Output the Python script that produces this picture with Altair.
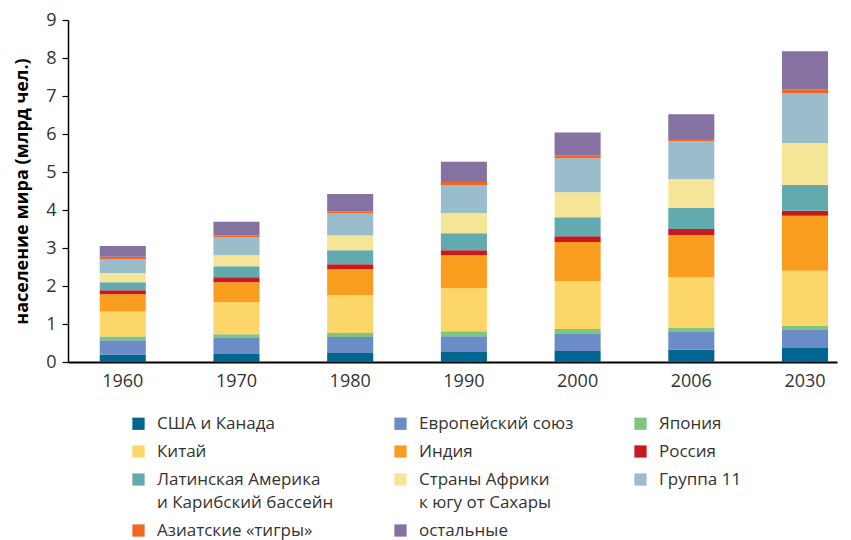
import altair as alt
import pandas as pd

years = ["1960", "1970", "1980", "1990", "2000", "2006", "2030"]

regions = [
    "США и Канада", "Европейский союз", "Япония",
    "Китай", "Индия", "Россия",
    "Латинская Америка\nи Карибский бассейн", "Страны Африки\nк югу от Сахары", "Группа 11",
    "Азиатские «тигры»", "остальные",
]
colors = [
    "#00658F", "#6C8CC7", "#7DC67F",
    "#FDD66A", "#F89D1E", "#C8191F",
    "#63AAAF", "#F5E596", "#9ABDCC",
    "#F26522", "#8572A0",
]

usa    = [0.20, 0.21, 0.24, 0.26, 0.29, 0.32, 0.37]
eu     = [0.37, 0.42, 0.42, 0.42, 0.45, 0.47, 0.47]
japan  = [0.10, 0.10, 0.10, 0.13, 0.13, 0.12, 0.11]
china  = [0.66, 0.84, 1.00, 1.13, 1.26, 1.32, 1.45]
india  = [0.45, 0.53, 0.68, 0.87, 1.03, 1.11, 1.45]
russia = [0.11, 0.13, 0.13, 0.13, 0.15, 0.16, 0.13]
latam  = [0.21, 0.29, 0.37, 0.45, 0.50, 0.55, 0.68]
africa = [0.24, 0.29, 0.39, 0.53, 0.66, 0.76, 1.10]
g11    = [0.37, 0.47, 0.58, 0.74, 0.89, 1.00, 1.32]
tigers = [0.06, 0.05, 0.06, 0.08, 0.08, 0.06, 0.10]
others = [0.28, 0.36, 0.45, 0.53, 0.60, 0.65, 1.00]

series = [usa, eu, japan, china, india, russia, latam, africa, g11, tigers, others]

rows = []
for i, (name, vals) in enumerate(zip(regions, series)):
    for y, v in zip(years, vals):
        rows.append({"year": y, "region": name, "value": v, "order": i})
df = pd.DataFrame(rows)

FONT = "Open Sans"
TXT = "#333333"

chart = alt.Chart(df).mark_bar().encode(
    x=alt.X("year:N", sort=years, title=None,
            scale=alt.Scale(paddingInner=0.595, paddingOuter=0.179, align=0.78),
            axis=alt.Axis(labelAngle=0, ticks=False, labelFontSize=18, labelFont=FONT,
                          labelColor=TXT, labelPadding=10, domainColor="#000000",
                          domainWidth=2)),
    y=alt.Y("value:Q", stack="zero", title="население мира (млрд чел.)",
            scale=alt.Scale(domain=[0, 9], nice=False),
            axis=alt.Axis(values=list(range(10)), grid=False, labelFontSize=18,
                          labelFont=FONT, labelColor=TXT, tickSize=6, tickColor="#000000",
                          tickWidth=1.2, domainColor="#000000", domainWidth=1.5,
                          labelPadding=6, titleFont=FONT, titleFontSize=18,
                          titleFontWeight="bold", titleColor="#000000", titlePadding=14)),
    color=alt.Color("region:N", scale=alt.Scale(domain=regions, range=colors),
                    legend=alt.Legend(orient="none", legendX=62, legendY=395, columns=3,
                                      direction="horizontal",
                                      title=None, symbolType="square", symbolSize=150,
                                      symbolStrokeWidth=0, labelFontSize=17, labelFont=FONT,
                                      labelColor=TXT, labelOffset=10, labelLimit=400,
                                      labelBaseline="middle",
                                      rowPadding=10, columnPadding=58, gridAlign="each",
                                      padding=0,
                                      labelExpr="split(datum.label, '\\n')")),
    order=alt.Order("order:Q", sort="ascending"),
).properties(
    width=769, height=342,
    padding={"top": 3, "left": 5, "right": 5, "bottom": 5},
).configure(
    style={"guide-label": {"lineHeight": 23}},
).configure_view(stroke=None)

chart.save("out.html", embed_options={"renderer": "svg", "actions": False})
